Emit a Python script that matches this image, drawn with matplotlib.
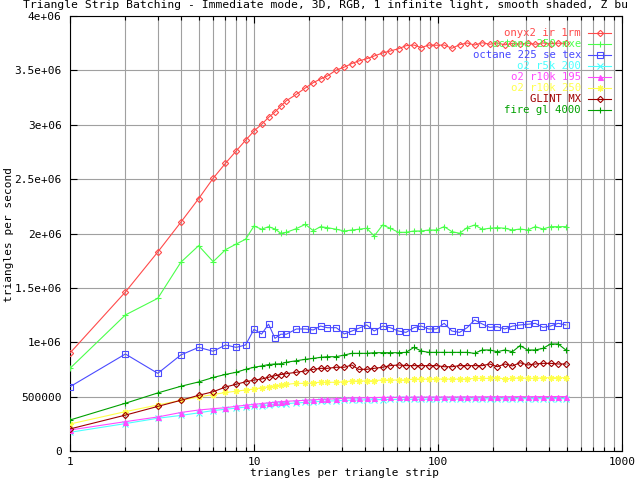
import matplotlib
matplotlib.use("Agg")
import matplotlib.pyplot as plt
from matplotlib.ticker import FixedLocator, LogLocator, NullFormatter
from matplotlib.lines import Line2D

# strip lengths (triangles per strip)
strip_len = [1, 2, 3, 4, 5, 6, 7, 8, 9, 10, 11, 12, 13, 14, 15, 17, 19, 21, 23, 25,
             28, 31, 34, 37, 41, 45, 50, 55, 61, 67, 74, 81, 89, 98, 108, 119, 131,
             144, 158, 174, 191, 210, 231, 254, 279, 307, 338, 372, 409, 450, 495]

onyx2_ir_1rm = [901000, 1462000, 1830000, 2103000, 2320000, 2508000, 2646000, 2759000,
                2857000, 2943000, 3004000, 3068000, 3117000, 3172000, 3221000, 3280000,
                3338000, 3387000, 3421000, 3448000, 3503000, 3530000, 3563000, 3586000,
                3607000, 3632000, 3660000, 3678000, 3699000, 3727000, 3733000, 3709000,
                3733000, 3731000, 3733000, 3703000, 3736000, 3752000, 3733000, 3754000,
                3740000, 3752000, 3735000, 3748000, 3742000, 3750000, 3740000, 3752000,
                3745000, 3750000, 3748000]

octane_250_mxe = [760000, 1251000, 1404000, 1735000, 1888000, 1741000, 1851000, 1903000,
                  1947000, 2069000, 2039000, 2063000, 2041000, 2002000, 2011000, 2045000,
                  2084000, 2026000, 2063000, 2054000, 2039000, 2023000, 2032000, 2039000,
                  2048000, 1977000, 2078000, 2048000, 2011000, 2011000, 2023000, 2023000,
                  2032000, 2032000, 2063000, 2017000, 2002000, 2054000, 2078000, 2039000,
                  2048000, 2054000, 2048000, 2032000, 2041000, 2032000, 2063000, 2041000,
                  2063000, 2063000, 2063000]

octane_225_se_tex = [591000, 892000, 714000, 883000, 953000, 917000, 975000, 953000,
                     975000, 1119000, 1075000, 1166000, 1036000, 1074000, 1074000, 1122000,
                     1122000, 1113000, 1149000, 1134000, 1134000, 1076000, 1103000, 1128000,
                     1159000, 1103000, 1149000, 1134000, 1103000, 1091000, 1134000, 1149000,
                     1122000, 1122000, 1174000, 1103000, 1091000, 1134000, 1205000, 1168000,
                     1137000, 1143000, 1122000, 1149000, 1159000, 1165000, 1174000, 1137000,
                     1149000, 1174000, 1159000]

o2_r5k_200 = [172000, 252000, 301000, 327000, 351000, 372000, 384000, 394000, 404000,
              411000, 416000, 423000, 428000, 432000, 436000, 442000, 447000, 452000,
              456000, 459000, 462000, 465000, 468000, 469000, 470000, 472000, 473000,
              474000, 475000, 475000, 476000, 476000, 477000, 477000, 477000, 478000,
              478000, 479000, 479000, 479000, 480000, 480000, 480000, 480000, 481000,
              481000, 481000, 481000, 482000, 482000, 481000]

o2_r10k_195 = [193000, 270000, 313000, 354000, 377000, 389000, 398000, 411000, 421000,
               428000, 436000, 443000, 448000, 454000, 457000, 462000, 466000, 471000,
               474000, 477000, 480000, 484000, 488000, 489000, 490000, 491000, 493000,
               493000, 494000, 494000, 495000, 495000, 496000, 496000, 497000, 497000,
               497000, 498000, 498000, 498000, 499000, 499000, 499000, 499000, 500000,
               499000, 500000, 500000, 500000, 501000, 500000]

o2_r10k_250 = [248000, 362000, 423000, 466000, 497000, 519000, 538000, 550000, 561000,
               570000, 582000, 591000, 600000, 607000, 613000, 622000, 622000, 628000,
               632000, 632000, 632000, 637000, 644000, 644000, 644000, 647000, 653000,
               653000, 653000, 653000, 662000, 662000, 662000, 662000, 662000, 662000,
               662000, 662000, 668000, 668000, 668000, 674000, 662000, 668000, 674000,
               668000, 668000, 674000, 674000, 674000, 674000]

glint_mx = [203000, 330000, 410000, 466000, 512000, 545000, 588000, 614000, 636000,
            652000, 662000, 678000, 692000, 703000, 711000, 724000, 736000, 751000,
            760000, 760000, 770000, 770000, 791000, 751000, 751000, 760000, 770000,
            785000, 791000, 785000, 785000, 785000, 785000, 785000, 775000, 775000,
            785000, 785000, 785000, 785000, 800000, 775000, 800000, 782000, 812000,
            791000, 800000, 806000, 806000, 800000, 800000]

fire_gl_4000 = [285000, 439000, 534000, 595000, 635000, 676000, 704000, 724000, 751000,
                770000, 782000, 795000, 800000, 802000, 816000, 830000, 843000, 852000,
                861000, 867000, 867000, 883000, 898000, 898000, 898000, 904000, 904000,
                904000, 904000, 907000, 953000, 920000, 907000, 907000, 907000, 907000,
                907000, 907000, 898000, 929000, 929000, 913000, 929000, 913000, 969000,
                929000, 929000, 944000, 984000, 984000, 929000]

labels = ["onyx2 ir 1rm", "octane 250 mxe", "octane 225 se tex", "o2 r5k 200",
          "o2 r10k 195", "o2 r10k 250", "GLINT MX", "fire gl 4000"]
series = [onyx2_ir_1rm, octane_250_mxe, octane_225_se_tex, o2_r5k_200,
          o2_r10k_195, o2_r10k_250, glint_mx, fire_gl_4000]

colors = ["#ff4a4a", "#4aff4a", "#4a4aff", "#4affff", "#ff4aff", "#ffff4a", "#a00000", "#00a000"]
# gnuplot point types: diamond, plus, box, cross, triangle, star, diamond, plus
markers = ["D", "+", "s", "x", "^", (8, 2, 0), "D", "+"]
msizes = [3.2, 5.0, 3.8, 4.0, 3.6, 4.6, 3.2, 5.0]
filled = [False, True, False, True, True, True, False, True]

W, H = 640, 480
FONT = "DejaVu Sans Mono"
FS = 8.0


def fx(px):
    return px / W


def fy(py):
    return 1 - py / H


fig = plt.figure(figsize=(6.4, 4.8), dpi=100)
left, right, top, bottom = 70, 622, 16, 451
ax = fig.add_axes([fx(left), fy(bottom), fx(right - left), (bottom - top) / H])

for ys, lab, col, mk, ms, fl in zip(series, labels, colors, markers, msizes, filled):
    ax.plot(strip_len, ys, color=col, lw=0.8, marker=mk, markersize=ms,
            markeredgewidth=0.8, markerfacecolor=(col if fl else "none"),
            markeredgecolor=col, label=lab, zorder=3)

ax.set_xscale("log")
ax.set_xlim(1, 1000)
ax.set_ylim(0, 4e6)

ax.xaxis.set_major_locator(FixedLocator([1, 10, 100, 1000]))
ax.xaxis.set_minor_locator(LogLocator(base=10, subs=range(2, 10), numticks=20))
ax.xaxis.set_minor_formatter(NullFormatter())
ax.set_xticklabels(["%g" % v for v in [1, 10, 100, 1000]])
yt = [i * 500000 for i in range(9)]
ax.set_yticks(yt)
ax.set_yticklabels(["%g" % v for v in yt])

ax.grid(True, which="both", axis="x", color="#a0a0a0", lw=0.8)
ax.grid(True, which="major", axis="y", color="#a0a0a0", lw=0.8)
ax.set_axisbelow(True)

ax.tick_params(which="both", direction="in", top=True, right=True, color="black",
               width=0.8)
ax.tick_params(which="major", length=5)
ax.tick_params(which="minor", length=3)
ax.tick_params(axis="y", pad=6)
ax.tick_params(axis="x", pad=4.2)
for lab in ax.get_xticklabels() + ax.get_yticklabels():
    lab.set_fontfamily(FONT)
    lab.set_fontsize(FS)
for sp in ax.spines.values():
    sp.set_linewidth(0.8)
    sp.set_color("black")

# title as it shows in the original (cut off at the right edge)
fig.text(fx(23), fy(0.3), "Triangle Strip Batching - Immediate mode, 3D, RGB, 1 infinite "
         "light, smooth shaded, Z bu", family=FONT, fontsize=8.2,
         ha="left", va="top")
fig.text(fx(345), fy(468.4), "triangles per triangle strip", family=FONT, fontsize=FS,
         ha="center", va="top")
fig.text(fx(9), fy(234), "triangles per second", family=FONT, fontsize=FS,
         ha="center", va="center", rotation=90)

# key, gnuplot style: right-aligned label then line sample with point
for i, (lab, col, mk, ms, fl) in enumerate(zip(labels, colors, markers, msizes, filled)):
    yrow = 33.3 + i * 11.0
    fig.text(fx(581), fy(yrow), lab, color=col, family=FONT, fontsize=7.7,
             ha="right", va="center", zorder=5)
    fig.add_artist(Line2D([fx(588), fx(611)], [fy(yrow), fy(yrow)], color=col, lw=0.8,
                          transform=fig.transFigure, zorder=5))
    fig.add_artist(Line2D([fx(599.5)], [fy(yrow)], color=col, lw=0, marker=mk,
                          markersize=ms, markeredgewidth=0.8,
                          markerfacecolor=(col if fl else "none"), markeredgecolor=col,
                          transform=fig.transFigure, zorder=5))

fig.savefig("out.png", dpi=100)
